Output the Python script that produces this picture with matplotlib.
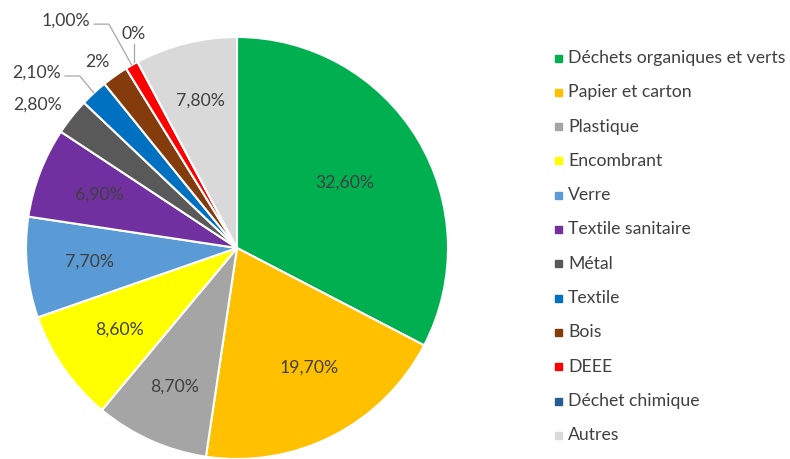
import matplotlib.pyplot as plt
import numpy as np

plt.rcParams['font.family'] = ['Lato', 'DejaVu Sans']

categories = ['Déchets organiques et verts', 'Papier et carton', 'Plastique',
              'Encombrant', 'Verre', 'Textile sanitaire', 'Métal', 'Textile',
              'Bois', 'DEEE', 'Déchet chimique', 'Autres']
values = [32.6, 19.7, 8.7, 8.6, 7.7, 6.9, 2.8, 2.1, 2.0, 1.0, 0.0, 7.8]
labels = ['32,60%', '19,70%', '8,70%', '8,60%', '7,70%', '6,90%',
          '2,80%', '2,10%', '2%', '1,00%', '0%', '7,80%']
colors = ['#00B050', '#FFC000', '#A5A5A5', '#FFFF00', '#5B9BD5', '#7030A0',
          '#595959', '#0070C0', '#843C0C', '#FF0000', '#255E91', '#D9D9D9']

txt = '#404040'
fs = 12.7
W, H = 790, 459
cx, cy, R = 237, 248, 211   # pie centre (px from top-left) and radius

fig = plt.figure(figsize=(7.9, 4.59), dpi=100)
# axes spanning the whole figure, 1 unit = pie radius
ax = fig.add_axes([0, 0, 1, 1])

wedges, _ = ax.pie(values, colors=colors, startangle=90, counterclock=False,
                   radius=1, wedgeprops=dict(edgecolor='white', linewidth=1.5),
                   normalize=True)
ax.set_aspect('equal')
ax.set_xlim(-cx / R, (W - cx) / R)
ax.set_ylim(-(H - cy) / R, cy / R)
ax.axis('off')

# inside labels: (radius, angle shift in degrees)
inside = {0: (0.60, 0), 1: (0.66, 4), 2: (0.72, 0), 3: (0.68, 0),
          4: (0.70, 0), 5: (0.70, 0), 11: (0.72, 0)}
for i, (r, da) in inside.items():
    w = wedges[i]
    a = np.deg2rad((w.theta1 + w.theta2) / 2 + da)
    ax.text(r * np.cos(a), r * np.sin(a), labels[i], ha='center', va='center',
            fontsize=fs, color=txt)

# outside labels (position in pie-radius units, optional leader line)
outside = {6: ((-0.943, 0.68), None),
           7: ((-0.948, 0.83), 'h'),
           8: ((-0.664, 0.88), None),
           9: ((-0.81, 1.076), 'h'),
           10: ((-0.488, 1.014), 'v')}
for i, ((x, y), lead) in outside.items():
    ax.text(x, y, labels[i], ha='center', va='center', fontsize=fs, color=txt)
    w = wedges[i]
    a = np.deg2rad((w.theta1 + w.theta2) / 2)
    px, py = np.cos(a), np.sin(a)
    if lead == 'h':
        x0, yl = x + 0.133, y - 0.015
        ax.plot([x0, x0 + 0.07, px], [yl, yl, py], color='#A6A6A6', lw=0.9)
    elif lead == 'v':
        ax.plot([x, x], [y - 0.045, py], color='#A6A6A6', lw=0.9)

# legend
ys = 58 + np.arange(len(categories)) * 34.3
for c, name, yy in zip(colors, categories, ys):
    fy = (H - yy) / H
    fig.patches.append(plt.Rectangle((555 / W, fy - 3.5 / H), 7 / W, 7 / H,
                                     transform=fig.transFigure, color=c))
    fig.text(568 / W, fy, name, ha='left', va='center', fontsize=fs, color=txt)

fig.savefig('out.png', dpi=100)
